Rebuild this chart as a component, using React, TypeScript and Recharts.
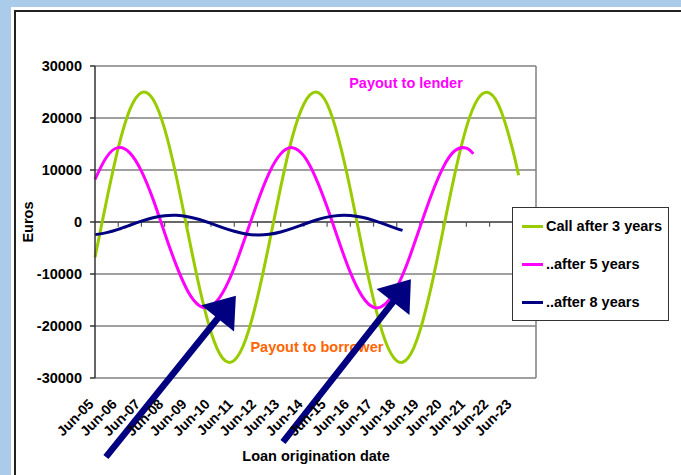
import React from 'react';
import { LineChart, Line, XAxis, YAxis, CartesianGrid, ReferenceLine, ReferenceDot } from 'recharts';

// Jahreslabels (Kategorien) der X-Achse
const dateLabels = [
  'Jun-05', 'Jun-06', 'Jun-07', 'Jun-08', 'Jun-09', 'Jun-10', 'Jun-11', 'Jun-12', 'Jun-13', 'Jun-14',
  'Jun-15', 'Jun-16', 'Jun-17', 'Jun-18', 'Jun-19', 'Jun-20', 'Jun-21', 'Jun-22', 'Jun-23',
];

const yTicks = [-30000, -20000, -10000, 0, 10000, 20000, 30000];

// Zeit in Jahren ab Jun-05
const call3Years = [
  0, 0.5, 1, 1.5, 2, 2.5, 3, 3.5, 4, 4.5, 5, 5.5, 6, 6.5, 7, 7.5, 8, 8.5, 9, 9.5,
  10, 10.5, 11, 11.5, 12, 12.5, 13, 13.5, 14, 14.5, 15, 15.5, 16, 16.5, 17, 17.5, 18, 18.25,
];
const call3Values = [
  -6800, 4150, 14200, 21600, 24900, 23600, 17900, 8800, -2000, -12600, -21200, -26200, -26600, -22500, -14500, -4200, 6700, 16300, 22700, 25000,
  22700, 15900, 6300, -4700, -14900, -22800, -26700, -26100, -20900, -12200, -1500, 9200, 18200, 23700, 24800, 21300, 13800, 9000,
];

const call5Years = [
  0, 0.5, 1, 1.5, 2, 2.5, 3, 3.5, 4, 4.5, 5, 5.5, 6, 6.5, 7, 7.5, 8, 8.5, 9, 9.5,
  10, 10.5, 11, 11.5, 12, 12.5, 13, 13.5, 14, 14.5, 15, 15.5, 16, 16.3,
];
const call5Values = [
  8200, 12500, 14300, 13300, 9800, 4400, -2100, -8300, -13300, -16100, -16200, -13600, -8800, -2600, 3800, 9400, 13100, 14300, 12700, 8600,
  2900, -3600, -9700, -14200, -16400, -15800, -12600, -7400, -1000, 5300, 10500, 13700, 14200, 13100,
];

const call8Years = [
  0, 0.5, 1, 1.5, 2, 2.5, 3, 3.5, 4, 4.5, 5, 5.5, 6, 6.5, 7, 7.5, 8, 8.5, 9, 9.5,
  10, 10.5, 11, 11.5, 12, 12.5, 13, 13.25,
];
const call8Values = [
  -2430, -2040, -1410, -620, 160, 810, 1210, 1290, 1020, 470, -270, -1070, -1790, -2290, -2500, -2360, -1910, -1220, -430, 330,
  940, 1260, 1250, 920, 310, -460, -1260, -1620,
];

const call3Data = call3Years.map((t, i) => ({ t, v: call3Values[i] }));
const call5Data = call5Years.map((t, i) => ({ t, v: call5Values[i] }));
const call8Data = call8Years.map((t, i) => ({ t, v: call8Values[i] }));

const series = [
  { name: 'Call after 3 years', data: call3Data, color: '#99cc00' },
  { name: '..after 5 years', data: call5Data, color: '#ff00ff' },
  { name: '..after 8 years', data: call8Data, color: '#000080' },
];

// Pfeile (Anmerkungen) in Datenkoordinaten
const arrows = [
  [{ x: 0.47, y: -45200 }, { x: 6.07, y: -14200 }],
  [{ x: 8.1, y: -42300 }, { x: 13.61, y: -11000 }],
];

const FONT = '"Liberation Sans", Arial, sans-serif';

const ArrowShape = (props: any) => {
  const { x1, y1, x2, y2 } = props;
  const dx = x2 - x1;
  const dy = y2 - y1;
  const len = Math.hypot(dx, dy) || 1;
  const ux = dx / len;
  const uy = dy / len;
  const headLen = 29;
  const headW = 21;
  const bx = x2 - ux * headLen;
  const by = y2 - uy * headLen;
  const px = -uy;
  const py = ux;
  return (
    <g>
      <line x1={x1} y1={y1} x2={bx + ux * 2} y2={by + uy * 2} stroke="#000080" strokeWidth={6.5} />
      <polygon
        points={`${x2},${y2} ${bx + px * headW},${by + py * headW} ${bx - px * headW},${by - py * headW}`}
        fill="#000080"
      />
    </g>
  );
};

const DateTick = ({ x, y, payload }: any) => {
  const label = dateLabels[Math.floor(payload.value)];
  const x0 = x - 12;
  const y0 = y + 25;
  return (
    <text
      x={x0}
      y={y0}
      transform={`rotate(-45, ${x0}, ${y0})`}
      textAnchor="end"
      fontSize={14}
      fontWeight="bold"
      fontFamily={FONT}
      fill="#000"
    >
      {label}
    </text>
  );
};

const textShape = (text: string, color: string) => (p: any) => (
  <text
    x={p.cx}
    y={p.cy}
    textAnchor="middle"
    dominantBaseline="central"
    fontSize={14.5}
    fontWeight="bold"
    fontFamily={FONT}
    fill={color}
  >
    {text}
  </text>
);

export default function App() {
  return (
    <div style={{ position: 'absolute', left: 0, top: 0, width: 681, height: 475, background: '#aacbea', overflow: 'hidden' }}>
      <div style={{ position: 'absolute', left: 11, top: 7, width: 670, height: 468, background: '#fff' }} />
      <div
        style={{
          position: 'absolute', left: 14, top: 10, width: 680, height: 480,
          borderTop: '2px solid #222', borderLeft: '2px solid #222',
        }}
      />
      <div style={{ position: 'absolute', left: 0, top: 0 }}>
        <LineChart width={681} height={475} margin={{ top: 66, right: 145, bottom: 27, left: 35 }}>
          <CartesianGrid vertical={false} stroke="#808080" strokeWidth={1.5} />
          <XAxis
            dataKey="t"
            type="number"
            domain={[0, 19]}
            ticks={dateLabels.map((_, i) => i + 0.5)}
            tick={<DateTick />}
            axisLine={false}
            tickLine={false}
            tickSize={0}
            height={70}
            interval={0}
          />
          <YAxis
            domain={[-30000, 30000]}
            ticks={yTicks}
            width={60}
            interval={0}
            axisLine={{ stroke: '#333', strokeWidth: 1.5 }}
            tickLine={{ stroke: '#333', strokeWidth: 1.5 }}
            tickSize={5}
            tickMargin={8}
            tick={{ fontSize: 14.5, fontWeight: 'bold', fill: '#000', fontFamily: FONT }}
          />
          <ReferenceLine x={19} stroke="#808080" strokeWidth={1.5} />
          <ReferenceLine y={0} stroke="#555" strokeWidth={1.5} />
          {dateLabels.map((_, i) => (
            <ReferenceLine
              key={'tk' + i}
              segment={[{ x: i + 1, y: 0 }, { x: i + 1, y: -900 }]}
              stroke="#555"
              strokeWidth={1.2}
              ifOverflow="visible"
            />
          ))}
          {series.map((s) => (
            <Line
              key={s.name}
              data={s.data}
              dataKey="v"
              name={s.name}
              type="natural"
              stroke={s.color}
              strokeWidth={3}
              dot={false}
              activeDot={false}
              isAnimationActive={false}
            />
          ))}
          <ReferenceDot x={13.4} y={26700} r={0} ifOverflow="visible" shape={textShape('Payout to lender', '#ff00ff')} />
          <ReferenceDot x={9.56} y={-24000} r={0} ifOverflow="visible" shape={textShape('Payout to borrower', '#ff6600')} />
          {arrows.map((seg, i) => (
            <ReferenceLine key={'ar' + i} segment={seg} ifOverflow="visible" shape={ArrowShape} zIndex={900} />
          ))}
        </LineChart>
      </div>
      <div
        style={{
          position: 'absolute', left: 0, top: 213, width: 56, height: 18, transform: 'rotate(-90deg)',
          transformOrigin: '28px 9px', textAlign: 'center', fontFamily: FONT, fontWeight: 'bold', fontSize: 14.5,
          lineHeight: '18px',
        }}
      >
        Euros
      </div>
      <div
        style={{
          position: 'absolute', left: 216, top: 447, width: 200, textAlign: 'center',
          fontFamily: FONT, fontWeight: 'bold', fontSize: 14.5, lineHeight: '18px',
        }}
      >
        Loan origination date
      </div>
      <div
        style={{
          position: 'absolute', left: 512, top: 207, width: 157, height: 114, boxSizing: 'border-box',
          border: '1px solid #333', background: '#fff', fontFamily: FONT,
        }}
      >
        {series.map((s, i) => (
          <div
            key={s.name}
            style={{ position: 'absolute', left: 9, top: 9 + i * 38, height: 18, display: 'flex', alignItems: 'center' }}
          >
            <div style={{ width: 21, height: 3, background: s.color, marginRight: 3 }} />
            <span style={{ fontSize: 14.5, fontWeight: 'bold', color: '#000', whiteSpace: 'nowrap' }}>{s.name}</span>
          </div>
        ))}
      </div>
    </div>
  );
}
